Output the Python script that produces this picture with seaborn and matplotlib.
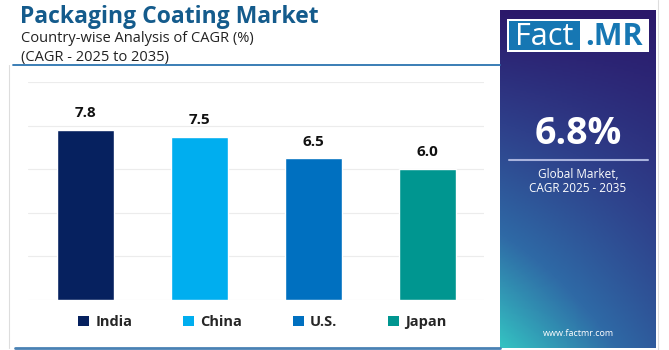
import numpy as np
import pandas as pd
import matplotlib
matplotlib.use('Agg')
import matplotlib.pyplot as plt
import seaborn as sns
from matplotlib.patches import Patch, Rectangle
from matplotlib.lines import Line2D
from matplotlib.colors import LinearSegmentedColormap

# Data
countries = ['India', 'China', 'U.S.', 'Japan']
cagr = [7.8, 7.5, 6.5, 6.0]
bar_colors = ['#06215f', '#00aeef', '#0070c0', '#009690']
global_cagr = '6.8%'

sns.set_style("white")
plt.rcParams['font.family'] = ['Open Sans', 'DejaVu Sans']

W, H = 669, 350
fig = plt.figure(figsize=(W / 100, H / 100), dpi=100)
fig.patch.set_facecolor('white')


def fx(px):
    return px / W


def fy(py):
    return 1 - py / H


# -------------------------------------------------------
# Header
# -------------------------------------------------------
fig.text(fx(20), fy(17), 'Packaging Coating Market', fontsize=16.5, fontweight='bold',
         color='#145b8c', va='center', ha='left')
fig.text(fx(21), fy(38), 'Country-wise Analysis of CAGR (%)', fontsize=10.5,
         color='#222222', va='center', ha='left')
fig.text(fx(21), fy(57), '(CAGR - 2025 to 2035)', fontsize=10.5,
         color='#222222', va='center', ha='left')
fig.add_artist(Line2D([fx(13), fx(500)], [fy(65), fy(65)], color='#2b74b0', lw=1.3))
# card borders
fig.add_artist(Line2D([fx(9), fx(9)], [fy(65), fy(348)], color='#dddddd', lw=0.8))
fig.add_artist(Line2D([fx(15), fx(500)], [fy(348), fy(348)], color='#4a82b4', lw=2))

# -------------------------------------------------------
# Bars
# -------------------------------------------------------
df = pd.DataFrame({'Country': countries, 'CAGR': cagr})
ax = fig.add_axes([fx(28), fy(300), fx(484) - fx(28), fy(82) - fy(300)])
sns.barplot(data=df, x='Country', y='CAGR', hue='Country', palette=bar_colors,
            width=0.5, legend=False, ax=ax, saturation=1)
ax.set_ylim(0, 10)
ax.set_xlim(-0.5, 3.5)
ax.set_yticks(np.arange(0, 11, 2))
ax.yaxis.grid(True, color='#ececec', lw=0.8)
ax.set_axisbelow(True)
for s in ax.spines.values():
    s.set_visible(False)
ax.set_xticks([])
ax.set_yticklabels([])
ax.tick_params(left=False)
ax.set_xlabel('')
ax.set_ylabel('')
for cont in ax.containers:
    ax.bar_label(cont, fmt='%.1f', padding=7, fontsize=11, fontweight='bold', color='#111111')

handles = [Patch(facecolor=c, edgecolor='none') for c in bar_colors]
fig.legend(handles, countries, ncol=4, loc='center left', bbox_to_anchor=(fx(65), fy(322)),
           frameon=False, handlelength=0.75, handleheight=0.75, handletextpad=0.45,
           columnspacing=3.45, prop={'weight': 'bold', 'size': 10.5})

# -------------------------------------------------------
# Right panel
# -------------------------------------------------------
pax = fig.add_axes([fx(500), fy(348), fx(656) - fx(500), fy(10) - fy(348)])
yy, xx = np.mgrid[0:1:200j, 0:1:100j]
grad = yy * (0.55 + 0.45 * (1 - xx))
cmap = LinearSegmentedColormap.from_list('panel', ['#2b186a', '#2e3f8a', '#2f6aa6', '#34c3c2'])
pax.imshow(grad, cmap=cmap, aspect='auto', extent=[0, 1, 0, 1], origin='upper')
pax.set_xlim(0, 1)
pax.set_ylim(0, 1)
pax.axis('off')
fig.add_artist(Line2D([fx(658), fx(658)], [fy(0), fy(350)], color='#dddddd', lw=0.8))

# logo
fig.add_artist(Rectangle((fx(507), fy(52)), fx(649) - fx(507), fy(19) - fy(52),
                         facecolor='white', edgecolor='none'))
fig.add_artist(Rectangle((fx(509), fy(50)), fx(580) - fx(509), fy(21) - fy(50),
                         facecolor='#1677b3', edgecolor='none'))
fig.text(fx(544), fy(37), 'Fact', fontsize=22, color='white', ha='center', va='center')
fig.text(fx(614), fy(37), '.MR', fontsize=22, color='#1677b3', fontweight='bold',
         ha='center', va='center')

fig.text(fx(578), fy(134), global_cagr, fontsize=27, fontweight='bold', color='white',
         ha='center', va='center')
fig.add_artist(Line2D([fx(509), fx(648)], [fy(160), fy(160)], color='#a9b3dd', lw=1.5))
fig.text(fx(578), fy(174), 'Global Market,', fontsize=8.5, color='white', ha='center', va='center')
fig.text(fx(578), fy(189), 'CAGR 2025 - 2035', fontsize=8.5, color='white', ha='center', va='center')
fig.text(fx(578), fy(333), 'www.factmr.com', fontsize=6.5, color='white', ha='center', va='center')

plt.savefig('out.png', dpi=100)
plt.close()
